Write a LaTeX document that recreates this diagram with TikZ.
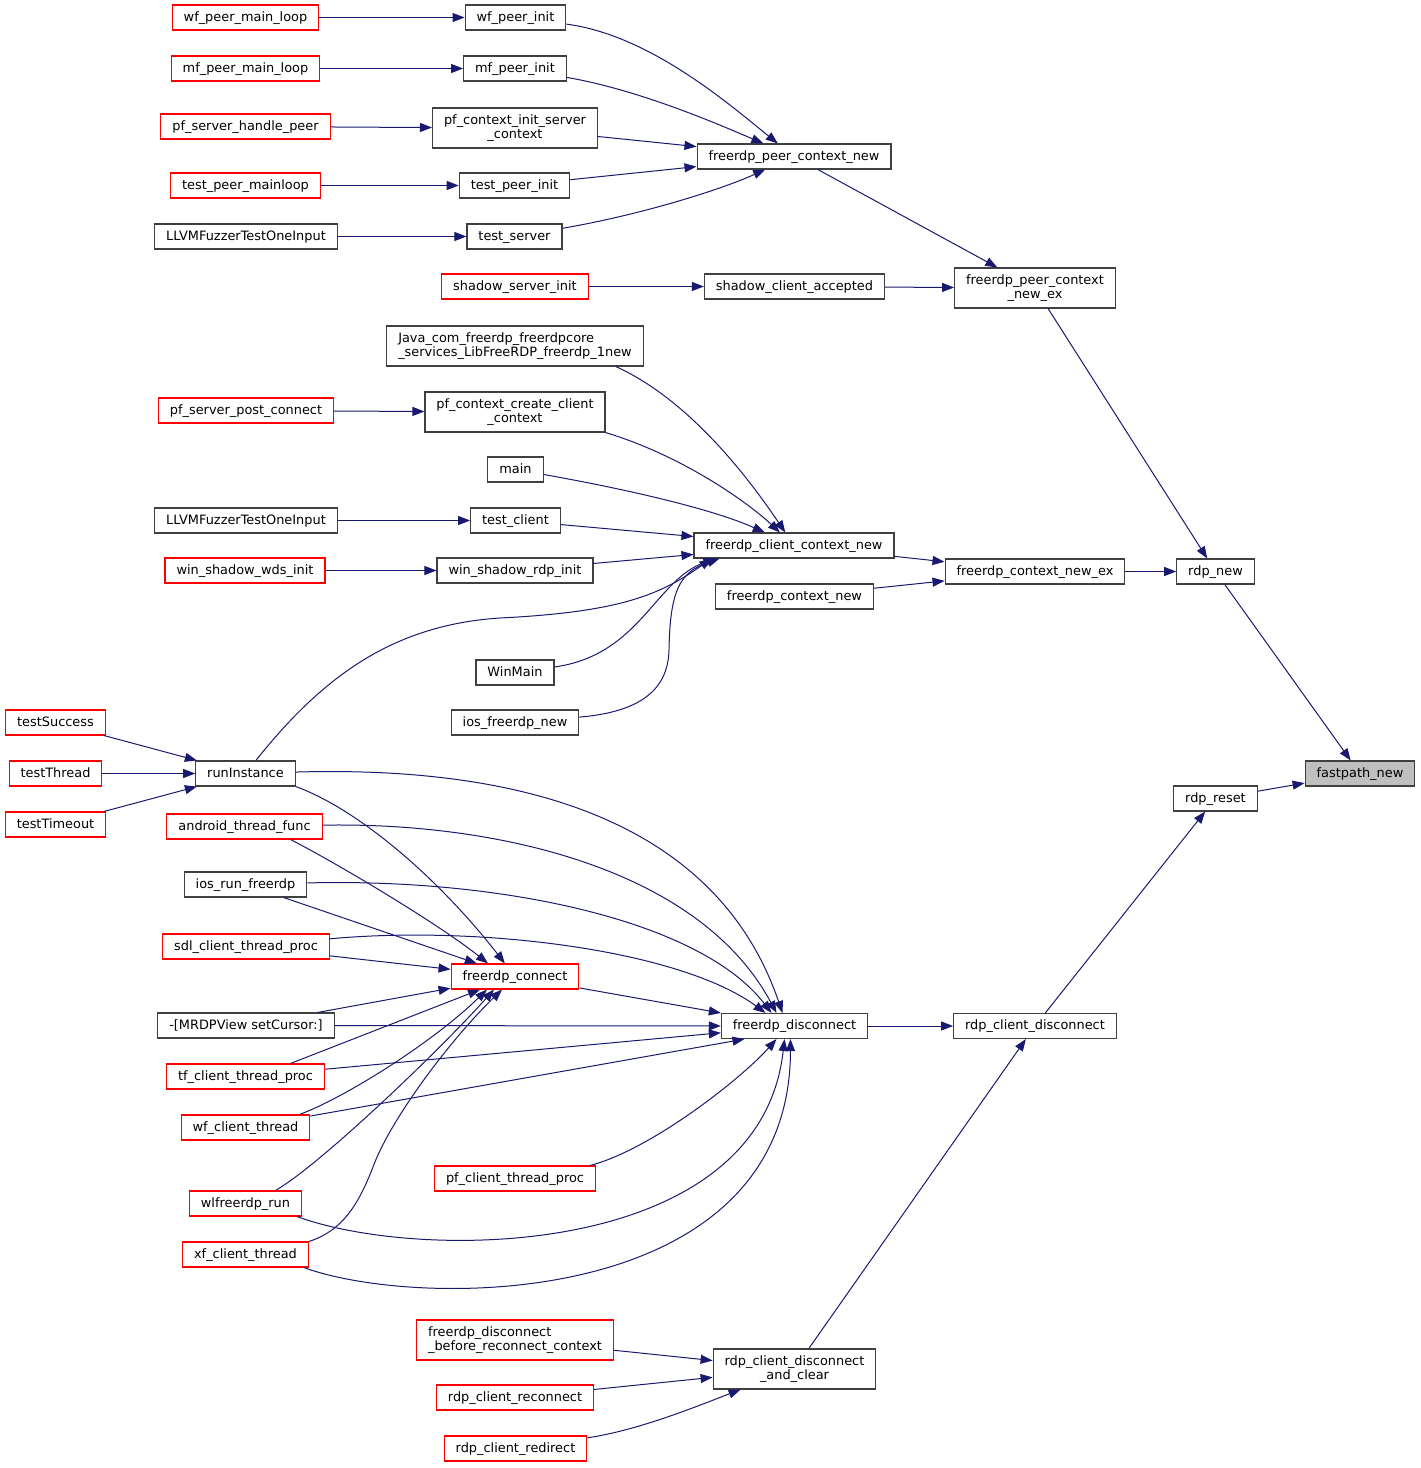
\documentclass[tikz,border=0pt]{standalone}
\usepackage{fontspec}
\setmainfont{DejaVu Sans}
\usetikzlibrary{arrows.meta}

\definecolor{edgeblue}{RGB}{25,25,112}
\definecolor{boxgray}{RGB}{64,64,64}
\definecolor{fillgray}{RGB}{191,191,191}

\tikzset{
  fn/.style={draw=boxgray, line width=1.1pt, fill=white,
    font=\fontsize{12.9}{14.5}\selectfont, inner xsep=11.5pt, inner ysep=0pt,
    text height=9.6pt, text depth=2.6pt, minimum height=25pt},
  fnred/.style={fn, draw=red},
  fntwo/.style={align=center, text height={}, text depth={}, minimum height=40pt},
  call/.style={-{Triangle[length=12pt,width=9pt]}, draw=edgeblue, line width=1pt}
}

\begin{document}
\begin{tikzpicture}[x=1pt,y=-1pt]

\useasboundingbox (0,0) rectangle (1421,1468);

% draw peer side
\node[fnred] (wfml) at (245.5,17.5) {wf\_peer\_main\_loop};
\node[fn] (wfpi) at (515.5,17.5) {wf\_peer\_init};
\node[fnred] (mfml) at (245.5,68.5) {mf\_peer\_main\_loop};
\node[fn] (mfpi) at (515,68.5) {mf\_peer\_init};
\node[fnred] (pfshp) at (245.5,126.5) {pf\_server\_handle\_peer};
\node[fn,fntwo] (pfcis) at (515,128) {pf\_context\_init\_server\\\_context};
\node[fnred] (tpml) at (245.5,185.5) {test\_peer\_mainloop};
\node[fn] (tpi) at (514.5,185.5) {test\_peer\_init};
\node[fn] (llvma) at (246,236.5) {LLVMFuzzerTestOneInput};
\node[fn] (tsrv) at (514.5,236.5) {test\_server};
\node[fn] (fpcn) at (794,156.5) {freerdp\_peer\_context\_new};
\node[fnred] (ssi) at (515,286.5) {shadow\_server\_init};
\node[fn] (sca) at (794.5,286.5) {shadow\_client\_accepted};
\node[fn,fntwo] (fpcnex) at (1035,288) {freerdp\_peer\_context\\\_new\_ex};

% draw client side
\node[fn,fntwo,align=left] (java) at (515,346) {Java\_com\_freerdp\_freerdpcore\\\_services\_LibFreeRDP\_freerdp\_1new};
\node[fnred] (pfspc) at (246,410.5) {pf\_server\_post\_connect};
\node[fn,fntwo] (pfccc) at (515,412) {pf\_context\_create\_client\\\_context};
\node[fn] (main) at (515.5,469.5) {main};
\node[fn] (llvmb) at (246,520.5) {LLVMFuzzerTestOneInput};
\node[fn] (tcl) at (515.5,520.5) {test\_client};
\node[fnred] (wswi) at (245,570.5) {win\_shadow\_wds\_init};
\node[fn] (wsri) at (515,570.5) {win\_shadow\_rdp\_init};
\node[fn] (fccn) at (794,545.5) {freerdp\_client\_context\_new};
\node[fn] (fcn) at (794.5,596.5) {freerdp\_context\_new};
\node[fn] (fcnex) at (1035,571.5) {freerdp\_context\_new\_ex};
\node[fn] (rdpnew) at (1215.5,571.5) {rdp\_new};
\node[fn] (winmain) at (515,672.5) {WinMain};
\node[fn] (iosnew) at (515,722.5) {ios\_freerdp\_new};

% draw run instance
\node[fnred] (tsucc) at (55.5,722.5) {testSuccess};
\node[fnred] (tthr) at (55.5,773.5) {testThread};
\node[fnred] (ttime) at (55.5,824.5) {testTimeout};
\node[fn] (run) at (245.5,773.5) {runInstance};
\node[fn,fill=fillgray] (fpn) at (1360,773.5) {fastpath\_new};
\node[fn] (rdpreset) at (1215.5,798.5) {rdp\_reset};

% draw connect and disconnect
\node[fnred] (atf) at (244.5,826.5) {android\_thread\_func};
\node[fn] (iosrun) at (245.5,884.5) {ios\_run\_freerdp};
\node[fnred] (sdl) at (246,946.5) {sdl\_client\_thread\_proc};
\node[fnred] (fc) at (515,976.5) {freerdp\_connect};
\node[fn] (mrdp) at (246,1025.5) {-[MRDPView setCursor:]};
\node[fn] (fd) at (794.5,1026) {freerdp\_disconnect};
\node[fn] (rcd) at (1035,1026) {rdp\_client\_disconnect};
\node[fnred] (tf) at (245.5,1076.5) {tf\_client\_thread\_proc};
\node[fnred] (wfc) at (245.5,1127.5) {wf\_client\_thread};
\node[fnred] (pfct) at (515,1178.5) {pf\_client\_thread\_proc};
\node[fnred] (wl) at (245.5,1203.5) {wlfreerdp\_run};
\node[fnred] (xf) at (245.5,1254.5) {xf\_client\_thread};
\node[fnred,fntwo,align=left] (fdbrc) at (515,1340) {freerdp\_disconnect\\\_before\_reconnect\_context};
\node[fn,fntwo] (rcdac) at (794.5,1369) {rdp\_client\_disconnect\\\_and\_clear};
\node[fnred] (rcr) at (515,1397.5) {rdp\_client\_reconnect};
\node[fnred] (rcredir) at (515.5,1448.5) {rdp\_client\_redirect};

% peer calls
\draw[call] (wfml) -- (wfpi);
\draw[call] (mfml) -- (mfpi);
\draw[call] (pfshp) -- (pfcis);
\draw[call] (tpml) -- (tpi);
\draw[call] (llvma) -- (tsrv);
\draw[call] (wfpi) .. controls (650,35) and (730,105) .. (fpcn);
\draw[call] (mfpi) .. controls (640,90) and (720,125) .. (fpcn);
\draw[call] (pfcis) -- (fpcn);
\draw[call] (tpi) -- (fpcn);
\draw[call] (tsrv) .. controls (640,215) and (720,190) .. (fpcn);
\draw[call] (fpcn) -- (fpcnex);
\draw[call] (ssi) -- (sca);
\draw[call] (sca) -- (fpcnex);
\draw[call] (fpcnex) -- (rdpnew);

% client calls
\draw[call] ([xshift=-28pt]java.south east) .. controls (690,400) and (750,480) .. (fccn);
\draw[call] (pfspc) -- (pfccc);
\draw[call] (pfccc.south east) .. controls (680,455) and (745,500) .. (fccn);
\draw[call] (main) .. controls (620,488) and (710,508) .. (fccn);
\draw[call] (llvmb) -- (tcl);
\draw[call] (tcl) -- (fccn);
\draw[call] (wswi) -- (wsri);
\draw[call] (wsri) -- (fccn);
\draw[call] (run) .. controls (320,680) and (390,625) .. (500,618)
  .. controls (620,612) and (660,595) .. ([xshift=18pt]fccn.south west);
\draw[call] (winmain) .. controls (640,655) and (655,580) .. ([xshift=22pt]fccn.south west);
\draw[call] (iosnew) .. controls (640,712) and (668,690) .. (669,650)
  .. controls (670,590) and (680,572) .. ([xshift=26pt]fccn.south west);
\draw[call] (fccn) -- (fcnex);
\draw[call] (fcn) -- (fcnex);
\draw[call] (fcnex) -- (rdpnew);
\draw[call] (rdpnew) -- (fpn);
\draw[call] (rdpreset) -- (fpn);

% run instance calls
\draw[call] (tsucc) -- (run);
\draw[call] (tthr) -- (run);
\draw[call] (ttime) -- (run);

% connect calls
\draw[call] (run.south east) .. controls (360,810) and (440,880) .. (fc);
\draw[call] ([xshift=-32pt]atf.south east) .. controls (340,865) and (440,925) .. ([xshift=-27pt]fc.north);
\draw[call] (iosrun) -- (fc);
\draw[call] (sdl) -- (fc);
\draw[call] (mrdp) -- (fc);
\draw[call] ([xshift=45pt]tf.north) -- ([xshift=-35pt]fc.south);
\draw[call] ([xshift=-11pt]wfc.north east) .. controls (340,1100) and (430,1045) .. ([xshift=-28pt]fc.south);
\draw[call] ([xshift=30pt]wl.north) .. controls (320,1165) and (440,1050) .. ([xshift=-21pt]fc.south);
\draw[call] (xf.north east) .. controls (345,1230) and (360,1200) .. (373,1167)
  .. controls (390,1120) and (450,1040) .. ([xshift=-13pt]fc.south);

% disconnect calls
\draw[call] (run) .. controls (540,765) and (720,830) .. ([xshift=-12pt]fd.north);
\draw[call] (atf) .. controls (500,822) and (700,870) .. ([xshift=-18pt]fd.north);
\draw[call] (iosrun) .. controls (500,878) and (700,920) .. ([xshift=-23pt]fd.north);
\draw[call] (sdl) .. controls (480,925) and (680,950) .. ([xshift=-29pt]fd.north);
\draw[call] (fc) -- (fd);
\draw[call] (mrdp) -- (fd);
\draw[call] (tf) -- (fd);
\draw[call] (wfc) -- ([xshift=-50pt]fd.south);
\draw[call] ([xshift=-6pt]pfct.north east) .. controls (650,1150) and (740,1080) .. ([xshift=-18pt]fd.south);
\draw[call] ([xshift=-5pt]wl.south east) .. controls (420,1262) and (760,1260) .. ([xshift=-10pt]fd.south);
\draw[call] ([xshift=-5pt]xf.south east) .. controls (420,1310) and (790,1310) .. ([xshift=-4pt]fd.south);
\draw[call] (fd) -- (rcd);
\draw[call] (rcd) -- (rdpreset);

% reconnect calls
\draw[call] (fdbrc) -- (rcdac);
\draw[call] (rcr) -- (rcdac);
\draw[call] (rcredir) .. controls (640,1430) and (700,1405) .. (rcdac);
\draw[call] (rcdac) -- (rcd);

\end{tikzpicture}
\end{document}
